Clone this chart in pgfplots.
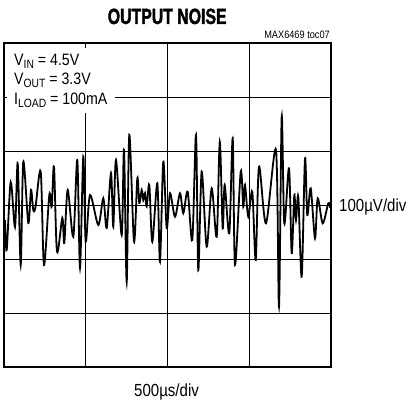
\documentclass[border=0pt]{standalone}
\usepackage{pgfplots}
\pgfplotsset{compat=1.18}
\usepackage{fontspec}
\setmainfont{Liberation Sans}
\newfontfamily\cond{Liberation Sans}[FakeStretch=0.86]
\newfontfamily\titlefont{Liberation Sans}[FakeStretch=0.72,FakeBold=1.6]
\pgfplotstableread{
t v
6.1 -27.8
16.5 -83.3
41 42.6
67.3 -40.7
83.8 77.2
102.1 -111.1
118 80.2
148.6 -33.3
165.1 27.8
179.2 -9.3
192.7 -3.7
224.5 61.7
244.6 -111.1
277 18.5
291.7 -3.1
305.8 70.9
324.1 -86.5
356.6 -24.1
368.8 -70.4
389.6 27.8
423.8 -58.7
448.3 83.3
464.8 -116.7
485 89.4
499.7 -68
526 18.5
576.7 -37
607.3 12.4
628.1 -42.6
654.4 59.3
668.4 -40.2
685 83.3
719.8 -55.6
733.9 101.9
750.4 -142.6
766.3 129.6
795.1 -68
815.3 49.4
827.5 3.7
842.2 27.8
851.9 9.3
862.4 22.2
872.8 -3.1
888.7 37
907 -68
937.6 40.2
954.1 -105
974.3 80.2
995.1 -42.6
1015.3 21.7
1045.9 -21.7
1076.4 21.7
1096.6 -15.4
1123.5 24.6
1151.6 -64.8
1174.3 129.6
1188.3 -120.4
1209.1 61.7
1239.7 -77.2
1270.3 30.9
1300.9 -58.7
1319.8 117.2
1337.6 -43.2
1349.8 37
1377.9 -52.4
1398.7 123.5
1412.8 -111.1
1447.7 61.7
1463.6 -3.1
1474 37
1494.2 -21.7
1518.6 24.6
1539.4 -101.9
1559.6 70.9
1602.4 -33.9
1663.6 101.9
1681.9 -188.3
1698.4 163.5
1714.3 -33.9
1743.1 68
1759.6 -89.4
1775.5 18.5
1785.9 -27.8
1800 15.4
1820.7 -132.8
1840.9 86.5
1855 -18.5
1875.8 30.9
1902.1 -61.7
1918.6 12.4
1949.2 -33.9
1983.4 3.1
1995 -5
}\noisedata
\begin{document}
\begin{tikzpicture}[x=1pt,y=1pt]
\useasboundingbox (0,0) rectangle (409,402);
\begin{axis}[
  at={(4pt,35pt)}, anchor=south west,
  scale only axis, width=327pt, height=324pt,
  xmin=0, xmax=2000, ymin=-300, ymax=300,
  xtick={500,1000,1500}, ytick={-200,-100,0,100,200},
  xticklabels={}, yticklabels={},
  major tick length=0pt,
  grid=major,
  major grid style={black, line width=0.9pt},
  axis line style={line width=2.6pt},
  clip=true,
]
\addplot[black, line width=1.8pt, smooth, tension=0.5] table[x=t,y=v] {\noisedata};
\end{axis}
\fill[white] (7,289) rectangle (115,354);
\node[anchor=base, inner sep=0] at (167.2,378) {\titlefont\fontsize{22}{22}\selectfont\bfseries OUTPUT NOISE};
\node[anchor=base east, inner sep=0] at (330,363.7) {\cond\fontsize{10.7}{11}\selectfont MAX6469 toc07};
\node[anchor=base west, inner sep=0] at (339,190.3) {\cond\fontsize{17.5}{18}\selectfont 100µV/div};
\node[anchor=base west, inner sep=0] at (134,5.3) {\cond\fontsize{17.5}{18}\selectfont 500µs/div};
\node[anchor=base west, inner sep=0] at (14,336.7) {\cond\fontsize{16.5}{17}\selectfont V\raisebox{-3pt}{\fontsize{12}{12}\selectfont IN} = 4.5V};
\node[anchor=base west, inner sep=0] at (14,317) {\cond\fontsize{16.5}{17}\selectfont V\raisebox{-3pt}{\fontsize{12}{12}\selectfont OUT} = 3.3V};
\node[anchor=base west, inner sep=0] at (14,297) {\cond\fontsize{16.5}{17}\selectfont I\raisebox{-3pt}{\fontsize{12}{12}\selectfont LOAD} = 100mA};
\end{tikzpicture}
\end{document}
